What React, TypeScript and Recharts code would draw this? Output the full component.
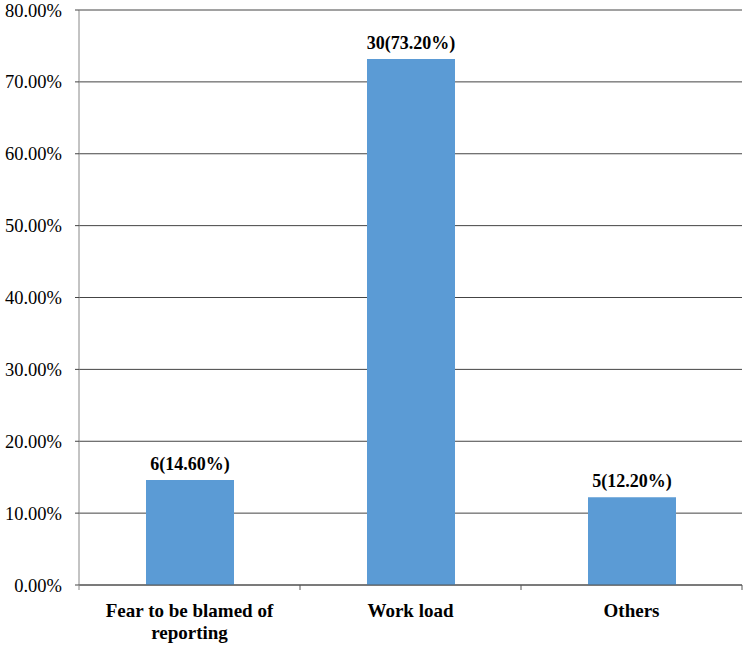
import { BarChart, Bar, XAxis, YAxis, CartesianGrid, LabelList, Text } from "recharts";

const categories = ["Fear to be blamed of reporting", "Work load", "Others"];
const percents = [14.6, 73.2, 12.2];
const counts = [6, 30, 5];
const yTicks = [0, 10, 20, 30, 40, 50, 60, 70, 80];

const data = categories.map((name, i) => ({ name, pct: percents[i], count: counts[i] }));

const W = 750;
const H = 648;
const M = { top: 10, right: 8, bottom: 0, left: 0 };
const X_H = 63;
const Y_W = 79;
const BAND = (W - M.right - Y_W) / categories.length;

const FONT = "Liberation Serif, Times New Roman, serif";

function CatTick(props: any) {
  const { x, y, payload, index } = props;
  const style = { fontFamily: FONT, fontWeight: "bold" as const, fontSize: 19 };
  return (
    <g>
      <line x1={x + BAND / 2} x2={x + BAND / 2} y1={y} y2={y + 5} stroke="#555" />
      {index === 0 && <line x1={x - BAND / 2} x2={x - BAND / 2} y1={y} y2={y + 5} stroke="#888" />}
      <Text
        x={x}
        y={y + 18.5}
        width={200}
        textAnchor="middle"
        verticalAnchor="start"
        lineHeight={22}
        style={style}
        fontFamily={FONT}
        fontWeight="bold"
        fontSize={19}
        fill="#000"
      >
        {payload.value}
      </Text>
    </g>
  );
}

export default function App() {
  return (
    <div style={{ position: "absolute", left: 0, top: 0, background: "#fff", fontFamily: FONT }}>
      <BarChart width={W} height={H} data={data} margin={M} style={{ fontFamily: FONT }}>
        <CartesianGrid vertical={false} stroke="#444" />
        <XAxis
          dataKey="name"
          axisLine={{ stroke: "#555" }}
          tickLine={false}
          tickSize={0}
          tickMargin={0}
          interval={0}
          tick={<CatTick />}
          height={X_H}
        />
        <YAxis
          width={Y_W}
          domain={[0, 80]}
          ticks={yTicks}
          tickFormatter={(v: number) => v.toFixed(2) + "%"}
          axisLine={{ stroke: "#888" }}
          tickLine={{ stroke: "#444" }}
          tickSize={4}
          tickMargin={13}
          tick={{ fontFamily: FONT, fontSize: 18.5, fill: "#000" }}
        />
        <Bar dataKey="pct" fill="#5B9BD5" barSize={88} isAnimationActive={false}>
          <LabelList
            dataKey="pct"
            position="top"
            content={(p: any) => (
              <text
                x={p.x + p.width / 2}
                y={p.y - 10}
                textAnchor="middle"
                fontFamily={FONT}
                fontWeight="bold"
                fontSize={18}
                fill="#000"
              >
                {`${data[p.index].count}(${Number(p.value).toFixed(2)}%)`}
              </text>
            )}
          />
        </Bar>
      </BarChart>
    </div>
  );
}
